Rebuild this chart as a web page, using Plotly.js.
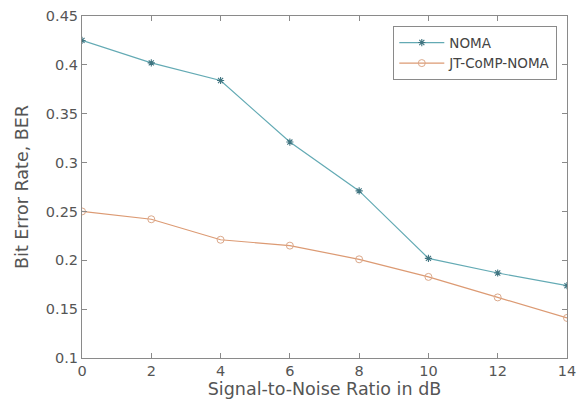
<!DOCTYPE html>
<html><head><meta charset="utf-8">
<script src="https://cdn.plot.ly/plotly-3.0.1.min.js"></script>
<style>body{margin:0;background:#fff}#c{width:582px;height:403px}</style>
</head><body><div id="c"></div>
<script>
const snr = [0, 2, 4, 6, 8, 10, 12, 14];
const berNOMA = [0.425, 0.402, 0.384, 0.321, 0.271, 0.202, 0.187, 0.174];
const berJT = [0.250, 0.242, 0.221, 0.215, 0.201, 0.183, 0.162, 0.141];
const names = ['NOMA', 'JT-CoMP-NOMA'];
const xTicks = [0, 2, 4, 6, 8, 10, 12, 14];
const yTicks = [0.1, 0.15, 0.2, 0.25, 0.3, 0.35, 0.4, 0.45];

const traces = [
  {x: snr, y: berNOMA, name: names[0], mode: 'lines+markers',
   line: {color: '#63aab4', width: 1.2},
   marker: {symbol: 'asterisk-open', size: 6, color: '#3f7480', line: {width: 1.1, color: '#3f7480'}}},
  {x: snr, y: berJT, name: names[1], mode: 'lines+markers',
   line: {color: '#dc9a73', width: 1.2},
   marker: {symbol: 'circle-open', size: 7, color: '#dba88a', line: {width: 1, color: '#dba88a'}}}
];
const axisCommon = {showgrid: false, zeroline: false, showline: true, mirror: 'ticks',
  linecolor: '#8a8a8a', linewidth: 1, ticks: 'inside', ticklen: 5, tickcolor: '#8a8a8a',
  tickfont: {family: 'DejaVu Sans, sans-serif', size: 14.5, color: '#555'}};
const layout = {
  width: 582, height: 403,
  margin: {l: 82, r: 15, t: 16, b: 45},
  paper_bgcolor: '#fff', plot_bgcolor: '#fff',
  font: {family: 'DejaVu Sans, sans-serif', color: '#555'},
  xaxis: Object.assign({}, axisCommon, {range: [0, 14], tickvals: xTicks, ticktext: xTicks.map(String),
    title: {text: 'Signal-to-Noise Ratio in dB', font: {size: 17.5, color: '#555'}, standoff: 2}}),
  yaxis: Object.assign({}, axisCommon, {range: [0.1, 0.45], tickvals: yTicks, ticktext: yTicks.map(v => String(+v.toFixed(2))),
    title: {text: 'Bit Error Rate, BER', font: {size: 17.5, color: '#555'}, standoff: 12}}),
  showlegend: true,
  legend: {x: 0.98, y: 0.97, xanchor: 'right', yanchor: 'top', bgcolor: '#fff',
    bordercolor: '#8a8a8a', borderwidth: 1, font: {size: 13.5, color: '#444'}, tracegroupgap: 0,
    itemwidth: 45}
};
Plotly.newPlot('c', traces, layout, {displayModeBar: false, staticPlot: true});
</script></body></html>
